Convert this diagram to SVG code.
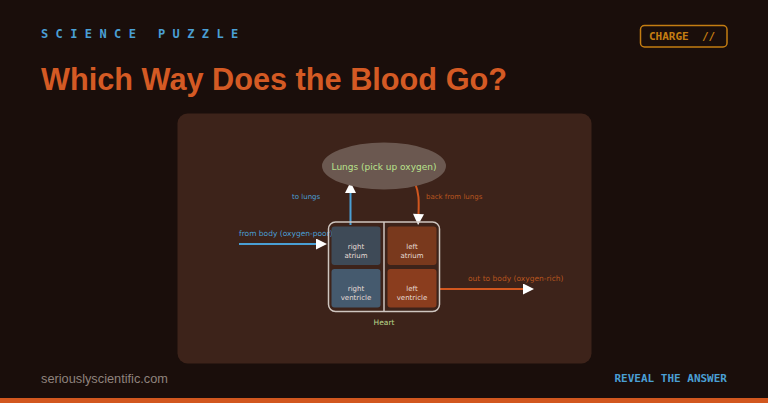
<svg xmlns="http://www.w3.org/2000/svg" width="768" height="403" viewBox="0 0 768 403">
<defs>
<style>
.mono{font-family:"DejaVu Sans Mono","Liberation Mono",monospace;font-weight:bold}
.g{font-family:"DejaVu Sans","Noto Sans",sans-serif}
.cell{font-size:7px;fill:#e6dcd6;text-anchor:middle}
.arr{fill:none;stroke-width:2}
</style>
<marker id="wh" viewBox="0 0 10 10" refX="0" refY="5" markerWidth="6" markerHeight="5.5" markerUnits="strokeWidth" orient="auto">
<path d="M0,0 L10,5 L0,10 Z" fill="#ffffff"/>
</marker>
</defs>
<rect x="0" y="0" width="768" height="403" fill="#1a0e0b"/>
<rect x="0" y="398" width="768" height="5" fill="#d2571f"/>
<text x="41" y="38" class="mono" font-size="12" fill="#4a9fd4" letter-spacing="7.4">SCIENCE PUZZLE</text>
<text x="41" y="90" font-family="Liberation Sans, Arial, sans-serif" font-weight="bold" font-size="30.7" fill="#d45a24">Which Way Does the Blood Go?</text>
<g id="badge">
<rect x="640.5" y="25.5" width="86.5" height="21.5" rx="4" fill="none" stroke="#c47d12" stroke-width="1.5"/>
<text x="649" y="40" class="mono" font-size="11" fill="#c47d12" xml:space="preserve">CHARGE  //</text>
</g>
<rect x="177.5" y="113.5" width="414" height="250" rx="10" fill="#3d231a"/>
<g id="connectors">
<line x1="350.5" y1="225" x2="350.5" y2="193" class="arr" stroke="#4a9fd4" marker-end="url(#wh)"/>
<path d="M415,183 C419,193 419,200 418.5,214" class="arr" stroke="#d2571f" marker-end="url(#wh)"/>
<line x1="239" y1="244" x2="316" y2="244" class="arr" stroke="#4a9fd4" marker-end="url(#wh)"/>
<line x1="440" y1="289" x2="523" y2="289" class="arr" stroke="#d2571f" marker-end="url(#wh)"/>
<text x="292" y="199" class="g" font-size="7" fill="#4a9fd4">to lungs</text>
<text x="426" y="199" class="g" font-size="7" fill="#b8551f">back from lungs</text>
<text x="239" y="236" class="g" font-size="7.5" fill="#4a9fd4">from body (oxygen-poor)</text>
<text x="468" y="281" class="g" font-size="7.5" fill="#b8551f">out to body (oxygen-rich)</text>
</g>
<g id="lungs">
<ellipse cx="384" cy="166" rx="62" ry="23.5" fill="#6b5850"/>
<text x="384" y="169.5" class="g" font-size="9" fill="#b9e38d" text-anchor="middle">Lungs (pick up oxygen)</text>
</g>
<g id="heart">
<rect x="328.5" y="222" width="111" height="89.5" rx="7" fill="none" stroke="#cfc6c0" stroke-width="1.5"/>
<line x1="384" y1="222" x2="384" y2="311.5" stroke="#cfc6c0" stroke-width="1.5"/>
<text x="384" y="325" class="g" font-size="7.5" fill="#b9d88a" text-anchor="middle">Heart</text>
</g>
<g id="right-atrium">
<rect x="331.5" y="226.5" width="49" height="38.5" rx="3" fill="#3e4a57"/>
<text x="356" y="249" class="g cell">right</text>
<text x="356" y="257.5" class="g cell">atrium</text>
</g>
<g id="right-ventricle">
<rect x="331.5" y="269" width="49" height="38.5" rx="3" fill="#455a6e"/>
<text x="356" y="291" class="g cell">right</text>
<text x="356" y="299.5" class="g cell">ventricle</text>
</g>
<g id="left-atrium">
<rect x="387.5" y="226.5" width="49" height="38.5" rx="3" fill="#79391d"/>
<text x="412" y="249" class="g cell">left</text>
<text x="412" y="257.5" class="g cell">atrium</text>
</g>
<g id="left-ventricle">
<rect x="387.5" y="269" width="49" height="38.5" rx="3" fill="#8a3d1e"/>
<text x="412" y="291" class="g cell">left</text>
<text x="412" y="299.5" class="g cell">ventricle</text>
</g>
<text x="41" y="383" font-family="Liberation Sans, Arial, sans-serif" font-size="13.5" fill="#8f837d" textLength="127" lengthAdjust="spacingAndGlyphs">seriouslyscientific.com</text>
<text x="727" y="382" class="mono" font-size="11" fill="#4a9fd4" text-anchor="end">REVEAL THE ANSWER</text>
</svg>
